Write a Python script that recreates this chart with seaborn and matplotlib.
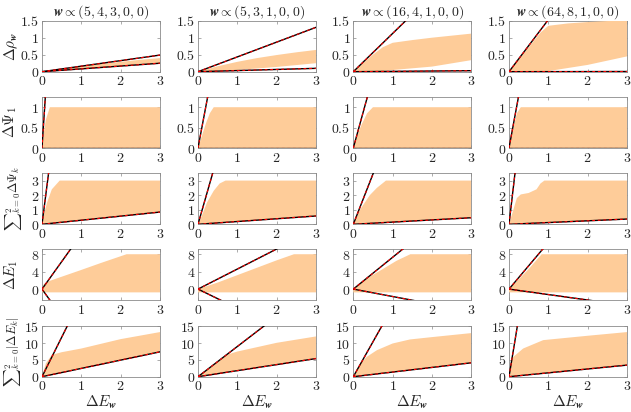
import numpy as np
import pandas as pd
import seaborn as sns
import matplotlib.pyplot as plt
from matplotlib import ticker

# ==========================================
# DATA
# ==========================================

weights = ["(5,4,3,0,0)", "(5,3,1,0,0)", "(16,4,1,0,0)", "(64,8,1,0,0)"]

# slopes of the two bounding lines, per column
rho_hi = [0.163, 0.435, 1.125, 1.53]
rho_lo = [0.083, 0.033, 0.01, 0.002]
psi1_hi = [14.8, 5.1, 3.5, 5.2]
psi1_lo = [0.0, 0.0, 0.0, 0.0]
psisum_hi = [21.0, 9.4, 6.9, 23.0]
psisum_lo = [0.28, 0.19, 0.15, 0.12]
e1_hi = [12.6, 4.6, 7.3, 10.7]
e1_lo = [-12.6, -4.4, -1.7, -1.25]
esum_hi = [23.5, 9.0, 20.8, 71.0]
esum_lo = [2.47, 1.8, 1.38, 1.15]

# upper envelopes of the sampled region
rho_up_x = [[0, 0.5, 1, 1.5, 2, 2.5, 3],
            [0, 0.5, 1, 1.5, 2, 2.5, 3],
            [0, 0.5, 0.75, 1, 1.5, 2, 2.5, 3],
            [0, 0.5, 0.8, 1, 1.5, 2, 2.5, 3]]
rho_up_y = [[0, 0.08, 0.16, 0.23, 0.29, 0.35, 0.40],
            [0, 0.16, 0.29, 0.40, 0.49, 0.57, 0.64],
            [0, 0.50, 0.72, 0.85, 0.93, 1.0, 1.06, 1.12],
            [0, 0.72, 1.15, 1.35, 1.42, 1.46, 1.49, 1.5]]
# lower envelopes for the first row
rho_low_x = [[0, 3],
             [0, 1, 2, 3],
             [0, 0.6, 1, 2, 3],
             [0, 0.9, 2, 3]]
rho_low_y = [[0, 0.255],
             [0, 0.05, 0.14, 0.25],
             [0, 0, 0.05, 0.15, 0.34],
             [0, 0, 0.2, 0.45]]

psi1_up_x = [[0, 0.05, 0.1, 0.2, 3],
             [0, 0.1, 0.2, 0.3, 0.4, 3],
             [0, 0.1, 0.2, 0.35, 0.5, 3],
             [0, 0.1, 0.2, 0.3, 3]]
psi1_up_y = [[0, 0.4, 0.7, 1, 1],
             [0, 0.3, 0.6, 0.85, 1, 1],
             [0, 0.3, 0.55, 0.85, 1, 1],
             [0, 0.45, 0.85, 1, 1]]

psisum_up_x = [[0, 0.05, 0.13, 0.25, 0.45, 3],
               [0, 0.1, 0.23, 0.4, 0.55, 0.7, 3],
               [0, 0.17, 0.42, 0.6, 0.83, 3],
               [0, 0.1, 0.2, 0.3, 0.5, 0.7, 0.8, 0.9, 3]]
psisum_up_y = [[0, 0.7, 1.5, 2.4, 3, 3],
               [0, 0.6, 1.5, 2.3, 2.8, 3, 3],
               [0, 1, 2, 2.5, 3, 3],
               [0, 0.9, 1.8, 2.05, 2.15, 2.4, 2.8, 3, 3]]

e1_up_x = [[0, 0.05, 0.2, 1, 1.5, 2.15, 3],
           [0, 0.5, 1, 1.5, 2, 2.44, 3],
           [0, 0.3, 0.75, 1.1, 1.45, 3],
           [0, 0.2, 0.5, 0.83, 3]]
e1_up_y = [[0, 1.2, 1.9, 4.4, 6.0, 8, 8],
           [0, 1.5, 3.2, 4.9, 6.6, 8, 8],
           [0, 2.2, 4.6, 6.5, 8, 8],
           [0, 1.8, 4.6, 8, 8]]
e1_floor = -0.75

esum_up_x = [[0, 0.1, 0.25, 0.5, 1, 2, 3],
             [0, 0.4, 0.75, 1, 2, 3],
             [0, 0.15, 0.34, 0.6, 1, 1.44, 2, 3],
             [0, 0.05, 0.11, 0.36, 0.87, 2, 3]]
esum_up_y = [[0, 4, 6.5, 7.3, 8.4, 11.2, 13.3],
             [0, 3.4, 6.6, 7.5, 10.1, 12],
             [0, 3.5, 5.9, 7.9, 9.9, 11.1, 11.8, 13],
             [0, 4, 5.9, 8.4, 10.9, 12.2, 13.3]]

row_labels = [r"$\Delta\rho_{\boldsymbol{w}}$",
              r"$\Delta\Psi_1$",
              r"${\sum}_{k=0}^{2}\Delta\Psi_k$",
              r"$\Delta E_1$",
              r"${\sum}_{k=0}^{2}|\Delta E_k|$"]
row_label_size = [11, 11, 9, 11, 9]
row_label_x = [-0.26, -0.27, -0.245, -0.26, -0.25]
row_ylim = [(0, 1.5), (0, 1.25), (0, 3.5), (-2.5, 9.2), (0, 15.2)]
row_yticks = [[0, 0.5, 1, 1.5], [0, 0.5, 1], [0, 1, 2, 3], [0, 4, 8],
              [0, 5, 10, 15]]

# ==========================================
# STYLE
# ==========================================

sns.set_theme(style="ticks")
plt.rcParams["font.family"] = ["serif"]
plt.rcParams["font.serif"] = ["DejaVu Serif"]
plt.rcParams["mathtext.fontset"] = "cm"

FILL = "#FECC99"
GRAY = "#8a8a8a"

fig = plt.figure(figsize=(6.31, 4.12), dpi=100)

col_left = [42, 198, 353.3, 509]
row_top = [20.7, 97, 173.3, 249, 325.7]
W, H = 118, 51


def region(r, c):
    if r == 0:
        ux, uy = rho_up_x[c], rho_up_y[c]
        lx, ly = rho_low_x[c], rho_low_y[c]
    elif r == 1:
        ux, uy = psi1_up_x[c], psi1_up_y[c]
        lx, ly = [0, 3], [0, 3 * psi1_lo[c]]
    elif r == 2:
        ux, uy = psisum_up_x[c], psisum_up_y[c]
        lx, ly = [0, 3], [0, 3 * psisum_lo[c]]
    elif r == 3:
        ux, uy = e1_up_x[c], e1_up_y[c]
        lx, ly = [0, 3], [e1_floor, e1_floor]
    else:
        ux, uy = esum_up_x[c], esum_up_y[c]
        lx, ly = [0, 3], [0, 3 * esum_lo[c]]
    return ux, uy, lx, ly


slopes_hi = [rho_hi, psi1_hi, psisum_hi, e1_hi, esum_hi]
slopes_lo = [rho_lo, psi1_lo, psisum_lo, e1_lo, esum_lo]

fmt = ticker.FuncFormatter(lambda v, p: f"${v:g}$")

for r in range(5):
    for c in range(4):
        ax = fig.add_axes([col_left[c] / 631, 1 - (row_top[r] + H) / 412,
                           W / 631, H / 412])

        ux, uy, lx, ly = region(r, c)
        ax.fill(np.r_[ux, lx[::-1]], np.r_[uy, ly[::-1]],
                color=FILL, lw=0, zorder=3)

        for s in (slopes_hi[r][c], slopes_lo[r][c]):
            df = pd.DataFrame({"x": [0, 3], "y": [0, 3 * s]})
            sns.lineplot(data=df, x="x", y="y", ax=ax, color="black",
                         lw=1.0, zorder=4)
            sns.lineplot(data=df, x="x", y="y", ax=ax, color="red",
                         lw=0.8, linestyle=(0, (2.5, 2.5)), zorder=5)

        ax.set_xlim(0, 3)
        ax.set_ylim(*row_ylim[r])
        ax.set_xticks([0, 1, 2, 3])
        ax.set_yticks(row_yticks[r])
        ax.xaxis.set_major_formatter(fmt)
        ax.yaxis.set_major_formatter(fmt)
        ax.tick_params(direction="in", length=2, width=0.5, color=GRAY,
                       top=True, right=True, labelsize=10, pad=2)
        for sp in ax.spines.values():
            sp.set_color(GRAY)
            sp.set_linewidth(0.6)

        ax.set_xlabel("")
        ax.set_ylabel("")
        if r == 0:
            ax.set_title(r"$\boldsymbol{w}\propto" + weights[c] + "$",
                         fontsize=10, pad=4)
        if c == 0:
            ax.set_ylabel(row_labels[r], fontsize=row_label_size[r])
            ax.yaxis.label.set_verticalalignment("center")
            ax.yaxis.set_label_coords(row_label_x[r], 0.5)
        if r == 4:
            ax.set_xlabel(r"$\Delta E_{\boldsymbol{w}}$", fontsize=11)
            ax.xaxis.set_label_coords(0.5, -0.33)

plt.savefig("out.png", dpi=100)
